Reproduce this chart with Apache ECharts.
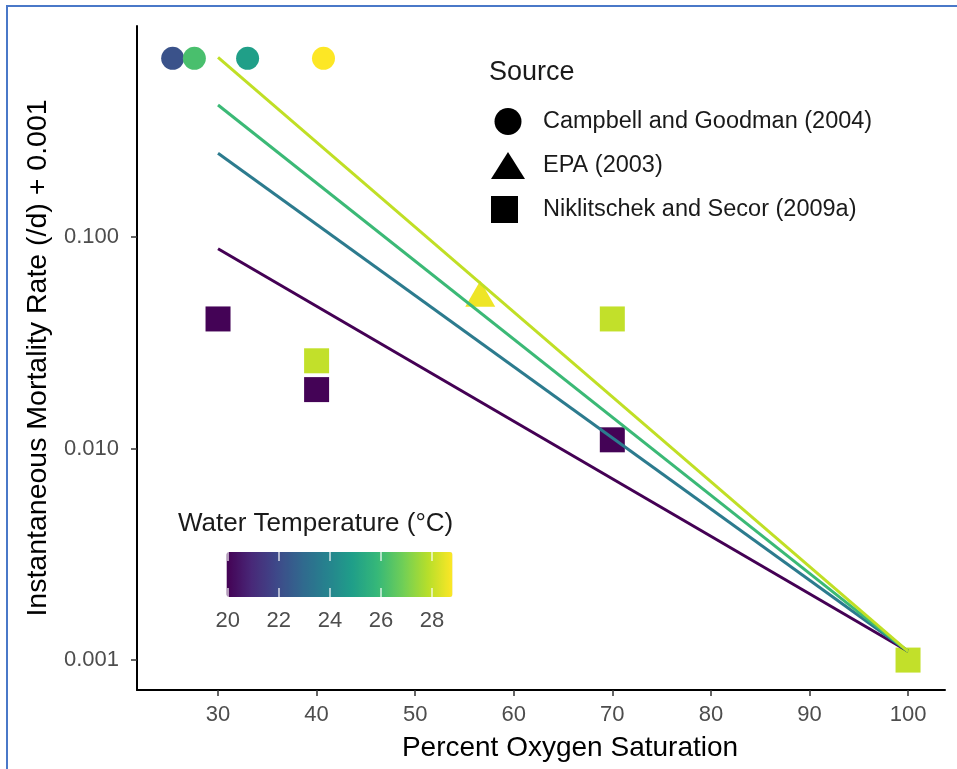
<!DOCTYPE html>
<html>
<head>
<meta charset="utf-8">
<script src="https://cdn.jsdelivr.net/npm/echarts@6/dist/echarts.min.js"></script>
<style>
  html, body { margin: 0; padding: 0; background: #fff; }
  #chart { width: 957px; height: 769px; }
</style>
</head>
<body>
<div id="chart"></div>
<script>
// 数据: [氧饱和度 %, 死亡率 + 0.001, 水温 °C]
const campbell = [[25.4, 0.70, 22.2], [27.6, 0.70, 26.2], [33.0, 0.70, 24.9], [40.7, 0.70, 28.8]];
const epa = [[56.6, 0.054, 28.6]];
const niklitschek = [[30, 0.041, 20], [40, 0.026, 28], [40, 0.019, 20], [70, 0.041, 28], [70, 0.011, 20], [100, 0.001, 28]];

// 拟合线 (30% -> 100%)
const fitX = [30, 100];
const fitTemps = [20, 24, 26, 28];
const fitStart = [0.088, 0.249, 0.421, 0.707];
const fitEnd = [0.0011, 0.0011, 0.0011, 0.0011];

const xTicks = [30, 40, 50, 60, 70, 80, 90, 100];
const yTicks = [0.001, 0.01, 0.1];
const tempTicks = [20, 22, 24, 26, 28];
const tempRange = [19.95, 28.8];

const sourceNames = ['Campbell and Goodman (2004)', 'EPA (2003)', 'Niklitschek and Secor (2009a)'];

const viridis = ['#440154', '#482878', '#3e4989', '#31688e', '#26828e', '#1f9e89', '#35b779', '#6ece58', '#b5de2b', '#fde725'];
const fitColors = ['#440154', '#2c7b8e', '#3bb976', '#c0df25'];

const FONT = 'Liberation Sans';
const chart = echarts.init(document.getElementById('chart'));

let series = [
	{ name: sourceNames[0], type: 'scatter', symbol: 'circle', symbolSize: 23, data: campbell, z: 2, itemStyle: { opacity: 1 } },
	{ name: sourceNames[1], type: 'scatter', symbol: 'triangle', symbolSize: [30, 26], data: epa, z: 2, itemStyle: { opacity: 1 } },
	{ name: sourceNames[2], type: 'scatter', symbol: 'rect', symbolSize: 25, data: niklitschek, z: 2, itemStyle: { opacity: 1 } }
];
for (let i = 0; i < fitTemps.length; i++) {
	series.push({
		name: 'fit ' + fitTemps[i],
		type: 'line',
		showSymbol: false,
		symbol: 'none',
		silent: true,
		z: 3,
		lineStyle: { color: fitColors[i], width: 3 },
		data: [[fitX[0], fitStart[i]], [fitX[1], fitEnd[i]]]
	});
}

const option = {
	animation: false,
	textStyle: { fontFamily: FONT },
	title: [
		{ text: 'Source', left: 489, top: 59, padding: 0, textStyle: { fontSize: 27, fontWeight: 'normal', color: '#1a1a1a', fontFamily: FONT } },
		{ text: 'Water Temperature (°C)', left: 178, top: 511, padding: 0, textStyle: { fontSize: 26, fontWeight: 'normal', color: '#1a1a1a', fontFamily: FONT } }
	],
	legend: {
		orient: 'vertical',
		left: 491,
		top: 108,
		padding: 0,
		itemWidth: 34,
		itemHeight: 27,
		itemGap: 17,
		selectedMode: false,
		itemStyle: { color: '#000', borderWidth: 0, opacity: 1 },
		textStyle: { fontSize: 23.5, color: '#1a1a1a', padding: [0, 0, 0, 13] },
		data: [
			{ name: sourceNames[0], icon: 'circle' },
			{ name: sourceNames[1], icon: 'triangle' },
			{ name: sourceNames[2], icon: 'square' }
		]
	},
	visualMap: {
		type: 'continuous',
		min: tempRange[0],
		max: tempRange[1],
		dimension: 2,
		seriesIndex: [0, 1, 2],
		orient: 'horizontal',
		left: 226.5,
		top: 552,
		itemWidth: 45,
		itemHeight: 226,
		padding: 0,
		calculable: false,
		hoverLink: false,
		inRange: { color: viridis }
	},
	graphic: [
		{ type: 'rect', silent: true, shape: { x: 7, y: 6, width: 1200, height: 1200 }, style: { fill: 'none', stroke: '#4a78c8', lineWidth: 2 } }
	],
	grid: [
		{ left: 137, right: 12, top: 26, bottom: 79 },
		{ left: 226.5, width: 226, top: 552, height: 45 }
	],
	xAxis: [
		{
			type: 'value',
			min: 21.78,
			max: 103.75,
			name: 'Percent Oxygen Saturation',
			nameLocation: 'middle',
			nameGap: 44,
			nameTextStyle: { fontSize: 28, color: '#000', padding: [0, 0, 0, 58] },
			axisLine: { lineStyle: { color: '#000', width: 2 } },
			axisTick: { customValues: xTicks, length: 6, lineStyle: { color: '#333', width: 1.5 } },
			axisLabel: { customValues: xTicks, fontSize: 22, color: '#4d4d4d', margin: 14 },
			splitLine: { show: false }
		},
		{
			gridIndex: 1,
			type: 'value',
			min: tempRange[0],
			max: tempRange[1],
			position: 'bottom',
			z: 10,
			axisLine: { show: false },
			axisTick: { customValues: tempTicks, inside: true, length: 9, lineStyle: { color: 'rgba(255,255,255,0.8)', width: 1.5 } },
			axisLabel: { customValues: tempTicks, fontSize: 22, color: '#4d4d4d', margin: 13 },
			splitLine: { show: false }
		},
		{
			gridIndex: 1,
			type: 'value',
			min: tempRange[0],
			max: tempRange[1],
			position: 'top',
			z: 10,
			axisLine: { show: false },
			axisTick: { customValues: tempTicks, inside: true, length: 9, lineStyle: { color: 'rgba(255,255,255,0.8)', width: 1.5 } },
			axisLabel: { show: false },
			splitLine: { show: false }
		}
	],
	yAxis: [
		{
			type: 'log',
			logBase: 10,
			min: 0.000722,
			max: 0.995,
			name: 'Instantaneous Mortality Rate (/d) + 0.001',
			nameLocation: 'middle',
			nameGap: 82,
			nameTextStyle: { fontSize: 28.5, color: '#000' },
			axisLine: { show: true, lineStyle: { color: '#000', width: 2 } },
			axisTick: { show: true, customValues: yTicks, length: 6, lineStyle: { color: '#333', width: 1.5 } },
			axisLabel: {
				customValues: yTicks,
				fontSize: 22,
				color: '#4d4d4d',
				margin: 18,
				formatter: function (v) { return Number(v).toFixed(3); }
			},
			splitLine: { show: false },
			minorTick: { show: false }
		},
		{ gridIndex: 1, type: 'value', show: false, min: 0, max: 1 }
	],
	series: series
};

chart.setOption(option);
</script>
</body>
</html>
